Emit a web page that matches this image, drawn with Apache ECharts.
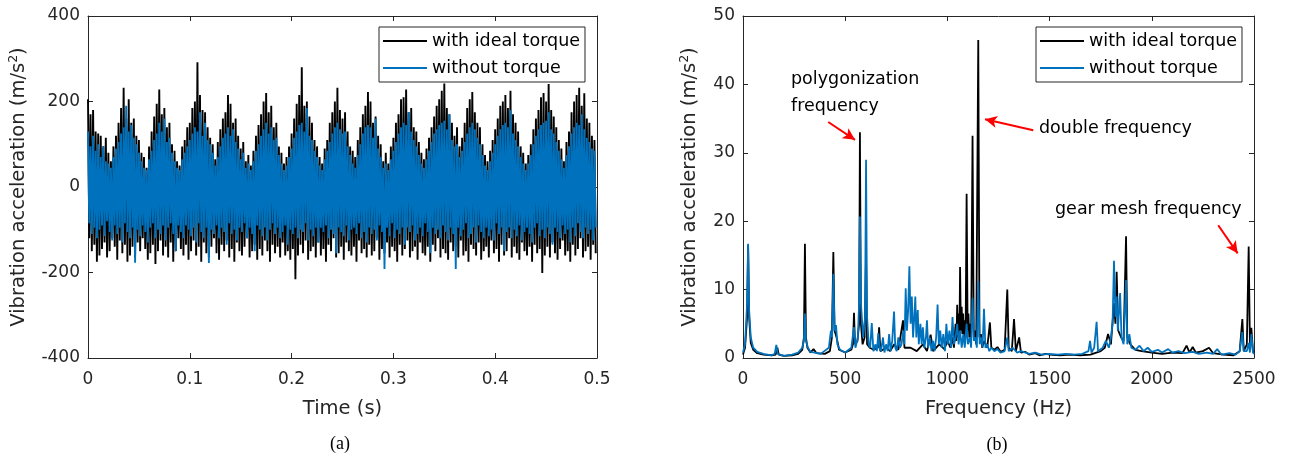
<!DOCTYPE html>
<html><head><meta charset="utf-8">
<script src="https://cdn.jsdelivr.net/npm/echarts@6/dist/echarts.min.js"></script>
<style>html,body{margin:0;padding:0;background:#fff}#c{width:1290px;height:460px}</style>
</head><body><div id="c"></div>
<script>
// ---------------- data ----------------
const seriesNames = ['with ideal torque', 'without torque'];
const sampleStep = 0.0025; // s between successive (max,min) pairs

// time signal, with ideal torque: local maxima / minima per sample step
const hiTorque = [
205,170,180,130,125,120,95,115,80,60,
95,120,150,185,232,160,205,150,160,120,
110,80,70,45,95,130,165,195,228,170,
185,140,150,100,85,60,50,95,110,140,
150,185,200,292,215,180,175,140,115,100,
65,105,135,160,175,215,195,150,160,120,
90,105,60,75,50,85,120,145,170,200,
220,175,190,140,150,95,80,55,70,95,
125,160,195,215,280,190,200,165,150,110,
95,70,55,90,110,150,175,200,232,180,
160,175,130,95,85,70,110,140,170,190,
222,200,150,165,120,100,60,80,55,95,
115,150,170,205,210,228,175,185,140,130,
105,80,65,90,115,140,165,190,205,225,
242,185,170,150,120,140,95,115,150,185,
205,222,175,150,140,100,75,60,85,110,
135,160,190,200,215,185,225,170,150,130,
95,80,55,75,100,135,160,180,210,220,
200,241,180,165,140,110,90,60,105,130,
175,200,215,232,190,219,160,150,120,110];
const loTorque = [
-120,-150,-135,-175,-160,-145,-130,-165,-150,-120,
-140,-170,-125,-155,-135,-175,-160,-140,-165,-130,
-150,-120,-145,-170,-155,-135,-180,-150,-125,-160,
-140,-165,-130,-175,-150,-120,-145,-160,-135,-170,
-150,-125,-160,-140,-175,-130,-155,-165,-140,-120,
-155,-170,-135,-150,-125,-165,-145,-175,-130,-150,
-160,-140,-120,-165,-150,-135,-170,-145,-160,-125,
-150,-175,-135,-155,-140,-165,-130,-160,-150,-170,
-145,-216,-160,-135,-155,-125,-170,-150,-140,-165,
-130,-160,-145,-175,-135,-150,-120,-165,-155,-140,
-170,-130,-150,-160,-140,-175,-125,-155,-145,-165,
-135,-160,-150,-120,-170,-145,-155,-130,-165,-140,
-150,-175,-135,-160,-145,-125,-165,-150,-140,-170,
-130,-155,-160,-140,-175,-135,-150,-120,-165,-145,
-155,-170,-130,-150,-140,-165,-125,-160,-150,-175,
-135,-145,-160,-130,-170,-150,-140,-165,-125,-155,
-145,-175,-135,-160,-150,-120,-165,-140,-155,-170,
-130,-150,-160,-140,-175,-135,-155,-145,-201,-160,
-140,-165,-130,-155,-170,-145,-125,-160,-150,-175,
-135,-160,-145,-120,-165,-150,-140,-170,-135,-155];
// time signal, without torque
const hiFree = [
130,95,120,85,100,70,95,60,55,45,
70,90,105,125,140,190,130,145,115,100,
80,60,45,40,65,85,110,125,150,130,
160,105,115,80,60,45,40,65,80,95,
110,125,140,130,175,120,150,110,100,80,
50,70,95,115,125,140,120,135,105,90,
65,80,45,55,40,60,85,100,120,135,
150,125,140,110,115,75,55,40,50,70,
90,115,130,145,150,130,185,120,110,85,
70,50,40,65,85,105,125,140,150,135,
125,130,95,75,55,45,75,100,125,140,
145,140,115,160,90,70,45,55,40,65,
85,105,125,140,150,145,175,130,110,95,
75,55,45,65,85,105,125,135,145,150,
155,135,170,110,95,100,70,85,105,125,
140,150,135,115,100,75,50,40,60,80,
100,120,135,145,150,140,180,125,110,95,
70,55,40,55,75,100,120,135,145,150,
155,175,135,125,105,85,65,45,75,95,
125,140,150,145,170,135,115,105,90,85];
const loFree = [
-85,-110,-95,-120,-100,-90,-115,-80,-105,-125,
-90,-110,-95,-130,-85,-105,-120,-95,-177,-100,
-115,-90,-105,-130,-95,-85,-120,-100,-110,-90,
-125,-95,-85,-110,-150,-90,-105,-120,-90,-100,
-115,-95,-130,-85,-105,-120,-95,-178,-100,-110,
-90,-120,-95,-105,-135,-85,-110,-100,-125,-95,
-105,-85,-120,-95,-110,-150,-90,-100,-115,-95,
-125,-100,-85,-110,-95,-120,-105,-90,-135,-100,
-110,-95,-120,-100,-105,-85,-125,-100,-115,-95,
-130,-95,-105,-90,-120,-100,-110,-155,-95,-105,
-115,-90,-125,-100,-95,-110,-85,-120,-105,-130,
-95,-110,-100,-125,-90,-105,-192,-95,-115,-85,
-120,-100,-110,-95,-135,-95,-105,-90,-125,-110,
-95,-115,-85,-105,-155,-95,-110,-100,-120,-90,
-105,-125,-95,-110,-192,-95,-115,-100,-85,-120,
-110,-95,-130,-90,-105,-120,-95,-115,-100,-125,
-85,-110,-95,-150,-105,-95,-120,-100,-115,-90,
-125,-105,-95,-110,-130,-95,-85,-115,-100,-120,
-95,-110,-135,-95,-105,-120,-90,-110,-100,-130,
-95,-115,-85,-105,-120,-95,-110,-100,-125,-95];

// amplitude spectra: [frequency Hz, amplitude m/s^2]
const specTorque = [
[0,0.5],[10,1.5],[20,6],[25,16.5],[30,6],[38,2.2],[50,1.2],[70,0.7],[100,0.5],[140,0.4],
[160,0.5],[168,1.5],[175,0.5],[200,0.3],[240,0.4],[270,0.6],[290,1.2],[298,3],[303,16.7],[308,3],
[315,1.5],[330,0.8],[345,1.3],[360,0.7],[400,0.6],[425,1],[435,3],[442,15.5],[448,4],[458,3],
[470,1.2],[500,0.8],[530,1.2],[538,2],[543,6.6],[548,2],[560,2.5],[568,5],[572,33],[577,5],
[585,2],[595,3],[602,15],[607,2],[620,1.5],[640,1.2],[660,1.5],[666,4.5],[672,1],[700,1.5],
[720,1],[740,2],[760,1.2],[783,5.5],[790,1.5],[820,1.5],[850,1],[880,2],[900,1],[918,3.4],
[930,1],[960,2],[985,1.3],[1000,2.5],[1015,1.5],[1025,3],[1032,1.5],[1040,5],[1044,2.5],[1048,7.8],
[1052,3],[1056,6.5],[1059,3],[1062,13.3],[1066,4],[1070,7.5],[1073,3.5],[1077,6.5],[1081,2.5],[1085,5.5],
[1089,3],[1094,24],[1099,4],[1103,6.5],[1107,3],[1111,5],[1116,2.5],[1123,32.5],[1129,3],[1135,4],
[1141,2],[1151,46.5],[1157,3],[1164,3.5],[1170,1.5],[1180,2.5],[1195,1.5],[1208,5.2],[1215,1.5],[1230,1.2],
[1245,1.6],[1260,0.9],[1280,1.2],[1293,10],[1300,1.5],[1315,1],[1326,5.7],[1335,1],[1351,3],[1360,0.8],
[1380,0.9],[1400,0.5],[1430,0.7],[1450,0.4],[1480,0.6],[1500,0.5],[1550,0.4],[1600,0.5],[1650,0.4],[1700,0.5],
[1750,1],[1770,1.5],[1786,3.5],[1800,2],[1815,8],[1822,5],[1828,12.6],[1836,4],[1850,3],[1862,2.5],
[1874,17.8],[1880,3],[1895,2],[1920,1.2],[1950,1],[2000,0.8],[2050,0.6],[2100,0.8],[2150,0.7],[2170,1.8],
[2185,0.8],[2200,1.6],[2215,0.8],[2250,1],[2280,1.5],[2300,0.7],[2350,0.5],[2400,0.4],[2430,1],[2443,5.7],
[2450,1],[2465,2],[2474,16.3],[2480,2],[2487,4.4],[2495,1],[2500,0.8]];
const specFree = [
[0,0.8],[10,2],[20,8],[25,16.7],[30,7],[38,3],[50,1.5],[70,0.9],[100,0.6],[140,0.4],
[155,0.6],[163,1.9],[170,0.6],[200,0.3],[240,0.5],[270,0.8],[290,1.5],[298,2.5],[303,6.5],[308,2.5],
[318,1.5],[330,0.9],[350,0.8],[380,0.6],[420,1.5],[430,4],[436,3],[442,12.3],[448,4],[455,4.8],
[462,2],[475,1.2],[500,0.8],[530,1.5],[543,4.5],[550,1.5],[562,3],[568,8],[572,20.7],[577,8],
[588,3],[597,6],[602,29],[607,6],[615,2],[622,1.5],[630,5.1],[638,1],[648,2],[655,1],
[662,3.6],[668,1.5],[675,1],[685,3],[692,0.8],[700,2],[708,1],[715,3.5],[722,1],[730,2.5],
[739,6.8],[745,1.5],[752,1],[760,3],[768,1.5],[775,2],[785,4],[790,2],[796,10.2],[802,4],
[808,7],[814,13.4],[820,5],[826,9],[832,3],[838,6],[843,9],[848,3],[855,7],[860,2],
[868,5],[874,2],[880,4.5],[887,1.5],[895,3],[900,5.5],[906,1.5],[915,3],[922,1],[930,2.5],
[937,1],[945,3],[952,7.8],[958,2],[965,4],[972,1.5],[980,3.5],[988,1],[995,5],[1002,2],
[1010,4],[1018,1.5],[1025,6],[1032,2],[1040,3],[1048,5],[1055,2],[1062,4],[1070,1.5],[1078,3.5],
[1085,1.5],[1094,5],[1100,2],[1110,3],[1116,1.5],[1123,8.8],[1130,2.5],[1138,3],[1144,1.5],[1151,11.2],
[1158,2],[1165,3],[1172,1.5],[1179,7.2],[1186,1.5],[1195,2],[1205,1],[1215,1.5],[1230,1],[1245,1.3],
[1260,0.8],[1280,1],[1293,3],[1300,1],[1320,1.5],[1340,0.8],[1360,1],[1400,0.6],[1430,0.8],[1460,0.5],
[1500,0.6],[1540,0.5],[1580,0.6],[1620,0.5],[1660,0.6],[1690,1],[1698,2.5],[1705,0.8],[1718,1.5],[1730,5.3],
[1737,1],[1760,1.5],[1775,2.5],[1790,1.5],[1800,3],[1808,5],[1815,14.2],[1822,6],[1828,9],[1834,4],
[1845,9.5],[1852,3],[1862,2],[1874,11.4],[1880,2],[1890,3.5],[1900,1.5],[1920,1.2],[1940,1.8],[1960,1],
[1980,1.5],[2000,0.9],[2030,1.2],[2050,0.8],[2080,1.3],[2100,0.8],[2130,1],[2160,0.7],[2200,0.9],[2230,0.6],
[2270,0.8],[2300,0.6],[2320,1.3],[2340,0.5],[2380,0.7],[2410,0.5],[2430,1],[2443,3.8],[2450,1],[2465,1],
[2474,2.2],[2480,0.8],[2487,3.5],[2495,0.8],[2500,0.6]];

// annotation arrows: tail and head as [Hz, amplitude]
const arrowTails = [[417, 34.5], [1420, 33.3], [2325, 19.4]];
const arrowHeads = [[548, 31.9], [1184, 34.9], [2420, 15.3]];
const annotationTexts = ['polygonization', 'frequency', 'double frequency', 'gear mesh frequency'];
const panelLabels = ['(a)', '(b)'];

// ---------------- chart ----------------
function interleave(hi, lo) {
  const out = [];
  for (let k = 0; k < hi.length; k++) {
    out.push([k * sampleStep, hi[k]]);
    out.push([(k + 0.5) * sampleStep, lo[k]]);
  }
  return out;
}

const AX = '#262626';
const FONT = "'DejaVu Sans', sans-serif";
const BLACK = '#000000';
const BLUE = '#0072BD';

function xAxes(gi, min, max, interval, name) {
  return [
    { type: 'value', gridIndex: gi, position: 'bottom', min, max, interval,
      axisLine: { show: true, onZero: false, lineStyle: { color: AX, width: 1 } },
      axisTick: { show: true, inside: true, length: 5, lineStyle: { color: AX } },
      axisLabel: { show: true, color: AX, fontSize: 17, fontFamily: FONT, margin: 13,
        formatter: v => String(v) },
      splitLine: { show: false },
      name, nameLocation: 'middle', nameGap: 41,
      nameTextStyle: { color: AX, fontSize: 19.5, fontFamily: FONT } },
    { type: 'value', gridIndex: gi, position: 'top', min, max, interval,
      axisLine: { show: true, onZero: false, lineStyle: { color: AX, width: 1 } },
      axisTick: { show: true, inside: true, length: 5, lineStyle: { color: AX } },
      axisLabel: { show: false }, splitLine: { show: false } }
  ];
}
function yAxes(gi, min, max, interval, gap) {
  return [
    { type: 'value', gridIndex: gi, position: 'left', min, max, interval,
      axisLine: { show: true, onZero: false, lineStyle: { color: AX, width: 1 } },
      axisTick: { show: true, inside: true, length: 5, lineStyle: { color: AX } },
      axisLabel: { show: true, color: AX, fontSize: 17, fontFamily: FONT, margin: 8,
        formatter: v => String(v) },
      splitLine: { show: false },
      name: '{n|Vibration acceleration (m/s}{s|2}{n|)}', nameLocation: 'middle', nameGap: gap,
      nameTextStyle: { color: AX, fontSize: 19.5, fontFamily: FONT,
        rich: { n: { fontSize: 19.5, fontFamily: FONT, color: AX, lineHeight: 24 },
                s: { fontSize: 12.5, fontFamily: FONT, color: AX, lineHeight: 12, verticalAlign: 'top' } } } },
    { type: 'value', gridIndex: gi, position: 'right', min, max, interval,
      axisLine: { show: true, onZero: false, lineStyle: { color: AX, width: 1 } },
      axisTick: { show: true, inside: true, length: 5, lineStyle: { color: AX } },
      axisLabel: { show: false }, splitLine: { show: false } }
  ];
}
function legendAt(left) {
  return { left, top: 27, orient: 'vertical', data: seriesNames, selectedMode: false,
    icon: 'rect', itemWidth: 44, itemHeight: 2, itemGap: 7,
    padding: [4, 5, 4, 4], borderColor: AX, borderWidth: 1, backgroundColor: '#ffffff',
    textStyle: { color: '#000', fontSize: 17.5, fontFamily: FONT, lineHeight: 20 } };
}
function lineSeries(name, color, xi, yi, data, width) {
  return { type: 'line', name, xAxisIndex: xi, yAxisIndex: yi, data,
    symbol: 'none', showSymbol: false, clip: true,
    lineStyle: { color, width }, itemStyle: { color }, emphasis: { disabled: true }, silent: true,
    animation: false };
}

const specFreeSeries = lineSeries(seriesNames[1], BLUE, 2, 2, specFree, 1.8);
specFreeSeries.markLine = {
  silent: true, animation: false, symbol: ['none', 'arrow'], symbolSize: [9, 12],
  label: { show: false }, emphasis: { disabled: true },
  lineStyle: { color: '#ff0000', width: 2, type: 'solid' },
  data: arrowTails.map((t, i) => [{ coord: t }, { coord: arrowHeads[i] }])
};

const chart = echarts.init(document.getElementById('c'), null, { renderer: 'canvas' });
chart.setOption({
  backgroundColor: '#ffffff',
  animation: false,
  grid: [
    { left: 88, right: 693, top: 16, bottom: 102, containLabel: false, outerBoundsMode: 'none' },
    { left: 743, right: 36, top: 16, bottom: 102, containLabel: false, outerBoundsMode: 'none' }
  ],
  xAxis: [...xAxes(0, 0, 0.5, 0.1, 'Time (s)'), ...xAxes(1, 0, 2500, 500, 'Frequency (Hz)')],
  yAxis: [...yAxes(0, -400, 400, 200, 57), ...yAxes(1, 0, 50, 10, 41)],
  legend: [legendAt(379), legendAt(1036)],
  series: [
    lineSeries(seriesNames[0], BLACK, 0, 0, interleave(hiTorque, loTorque), 1.9),
    lineSeries(seriesNames[1], BLUE, 0, 0, interleave(hiFree, loFree), 1.9),
    lineSeries(seriesNames[0], BLACK, 2, 2, specTorque, 1.8),
    specFreeSeries
  ],
  graphic: [
    { type: 'text', left: 791, top: 70, silent: true, style: { text: annotationTexts[0], font: "17.5px 'DejaVu Sans'", fill: '#000' } },
    { type: 'text', left: 791, top: 97, silent: true, style: { text: annotationTexts[1], font: "17.5px 'DejaVu Sans'", fill: '#000' } },
    { type: 'text', left: 1039, top: 119, silent: true, style: { text: annotationTexts[2], font: "17.5px 'DejaVu Sans'", fill: '#000' } },
    { type: 'text', left: 1055, top: 200, silent: true, style: { text: annotationTexts[3], font: "17.5px 'DejaVu Sans'", fill: '#000' } },
    { type: 'text', x: 340, y: 444, silent: true, style: { text: panelLabels[0], font: "18px 'Liberation Serif'", fill: '#000', align: 'center', verticalAlign: 'middle' } },
    { type: 'text', x: 997, y: 445, silent: true, style: { text: panelLabels[1], font: "18px 'Liberation Serif'", fill: '#000', align: 'center', verticalAlign: 'middle' } }
  ]
});
</script>
</body></html>
